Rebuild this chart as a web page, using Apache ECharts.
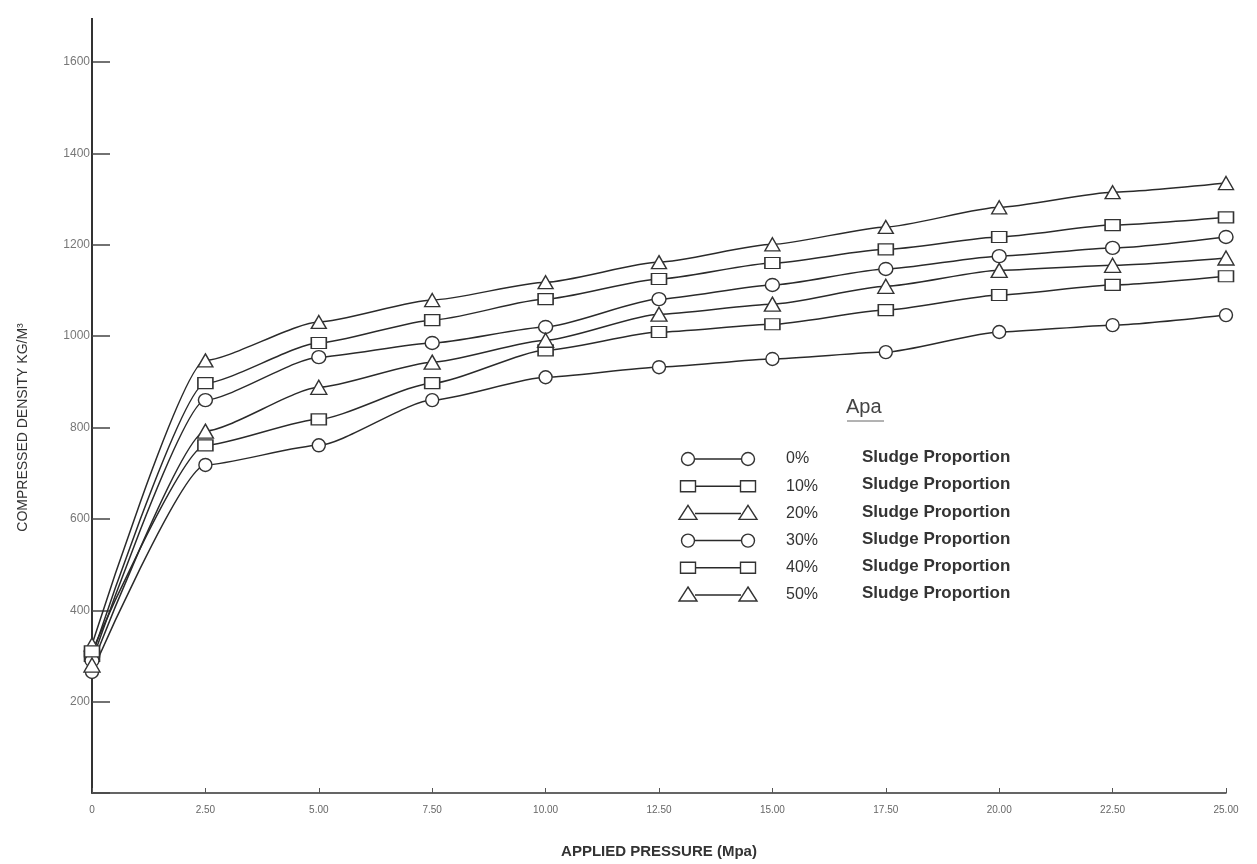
<!DOCTYPE html>
<html><head><meta charset="utf-8">
<script src="https://cdn.jsdelivr.net/npm/echarts@6/dist/echarts.min.js"></script>
<style>html,body{margin:0;padding:0;background:#fff}#c{width:1257px;height:864px}</style>
</head><body><div id="c"></div>
<script>
// ---- data ----
const pressure = [0, 2.5, 5, 7.5, 10, 12.5, 15, 17.5, 20, 22.5, 25];
const xTickLabels = ['0', '2.50', '5.00', '7.50', '10.00', '12.50', '15.00', '17.50', '20.00', '22.50', '25.00'];
const yTickLabels = ['200', '400', '600', '800', '1000', '1200', '1400', '1600'];
const proportions = ['0%', '10%', '20%', '30%', '40%', '50%'];
const density0  = [265, 718, 761, 860, 910, 932, 950, 965, 1009, 1024, 1046];
const density10 = [300, 897, 985, 1035, 1081, 1125, 1160, 1190, 1217, 1243, 1260];
const density20 = [325, 947, 1031, 1079, 1118, 1162, 1201, 1239, 1282, 1315, 1335];
const density30 = [290, 860, 954, 985, 1020, 1081, 1112, 1147, 1175, 1193, 1217];
const density40 = [310, 761, 818, 897, 969, 1009, 1026, 1057, 1090, 1112, 1131];
const density50 = [280, 792, 888, 943, 991, 1048, 1070, 1109, 1144, 1155, 1171];
const seriesValues = [density0, density10, density20, density30, density40, density50];
const symbols = ['circle', 'rect', 'triangle', 'circle', 'rect', 'triangle'];
const symbolSizes = [[13, 13], [15, 11], [15, 13], [14, 13], [15, 11], [16, 14]];

const lineColor = '#2a2a2a';
const series = seriesValues.map((vals, i) => ({
  name: proportions[i] + ' Sludge Proportion',
  type: 'line',
  data: vals.map((v, j) => [pressure[j], v]),
  smooth: 0.2,
  smoothMonotone: 'x',
  symbol: symbols[i],
  symbolSize: symbolSizes[i],
  showAllSymbol: true,
  clip: false,
  lineStyle: { color: lineColor, width: 1.5 },
  itemStyle: { color: '#fff', borderColor: '#333', borderWidth: 1.4 },
  z: 3
}));

// legend drawn as graphics (marker — marker, percent, label)
const graphics = [];
// extension of the vertical axis line above the 1600 tick
graphics.push({ type: 'line', shape: { x1: 92, y1: 18, x2: 92, y2: 63 }, style: { stroke: '#333', lineWidth: 2 }, z: 5 });
graphics.push({ type: 'text', left: 846, top: 397, style: { text: 'Apa', font: '20px "Liberation Sans", Arial', fill: '#444' } });
graphics.push({ type: 'line', shape: { x1: 847, y1: 421, x2: 884, y2: 421 }, style: { stroke: '#666', lineWidth: 1 } });
function marker(kind, cx, cy) {
  const st = { fill: '#fff', stroke: '#333', lineWidth: 1.4 };
  if (kind === 'circle') return { type: 'circle', shape: { cx, cy, r: 6.5 }, style: st, z: 10 };
  if (kind === 'rect') return { type: 'rect', shape: { x: cx - 7.5, y: cy - 5.5, width: 15, height: 11 }, style: st, z: 10 };
  return { type: 'polygon', shape: { points: [[cx, cy - 8], [cx + 9, cy + 6], [cx - 9, cy + 6]] }, style: st, z: 10 };
}
proportions.forEach((p, i) => {
  const y = 459 + i * 27.2;
  graphics.push({ type: 'line', shape: { x1: 695, y1: y, x2: 741, y2: y }, style: { stroke: lineColor, lineWidth: 1.5 }, z: 9 });
  graphics.push(marker(symbols[i], 688, y));
  graphics.push(marker(symbols[i], 748, y));
  graphics.push({ type: 'text', left: 786, top: y - 8, style: { text: p, font: '16px "Liberation Sans", Arial', fill: '#333' } });
  graphics.push({ type: 'text', left: 862, top: y - 10, style: { text: 'Sludge Proportion', font: 'bold 17px "Liberation Sans", Arial', fill: '#333' } });
});

const chart = echarts.init(document.getElementById('c'), null, { renderer: 'canvas' });
chart.setOption({
  backgroundColor: '#fff',
  animation: false,
  grid: { left: 92, right: 31, top: 62, bottom: 71, containLabel: false },
  xAxis: {
    type: 'value', min: 0, max: 25, interval: 2.5,
    name: 'APPLIED PRESSURE (Mpa)', nameLocation: 'middle', nameGap: 51,
    nameTextStyle: { color: '#333', fontSize: 15, fontWeight: 'bold', fontFamily: 'Liberation Sans' },
    axisLine: { lineStyle: { color: '#333', width: 1.5 } },
    axisTick: { inside: true, length: 5, lineStyle: { color: '#555' } },
    axisLabel: { color: '#666', fontSize: 10, margin: 12, fontFamily: 'Liberation Sans',
      formatter: v => { const k = pressure.indexOf(v); return k >= 0 ? xTickLabels[k] : ''; } },
    splitLine: { show: false }
  },
  yAxis: {
    type: 'value', min: 0, max: 1600, interval: 200,
    name: 'COMPRESSED DENSITY KG/M³', nameLocation: 'middle', nameGap: 62, nameRotate: 90,
    nameTextStyle: { color: '#333', fontSize: 14, fontFamily: 'Liberation Sans' },
    axisLine: { lineStyle: { color: '#333', width: 2 } },
    axisTick: { inside: true, length: 18, lineStyle: { color: '#444', width: 1.5 } },
    axisLabel: { color: '#777', fontSize: 12, margin: 2, fontFamily: 'Liberation Sans',
      formatter: v => { const s = String(v); return yTickLabels.indexOf(s) >= 0 ? s : ''; } },
    splitLine: { show: false }
  },
  graphic: graphics,
  series: series
});
</script></body></html>
